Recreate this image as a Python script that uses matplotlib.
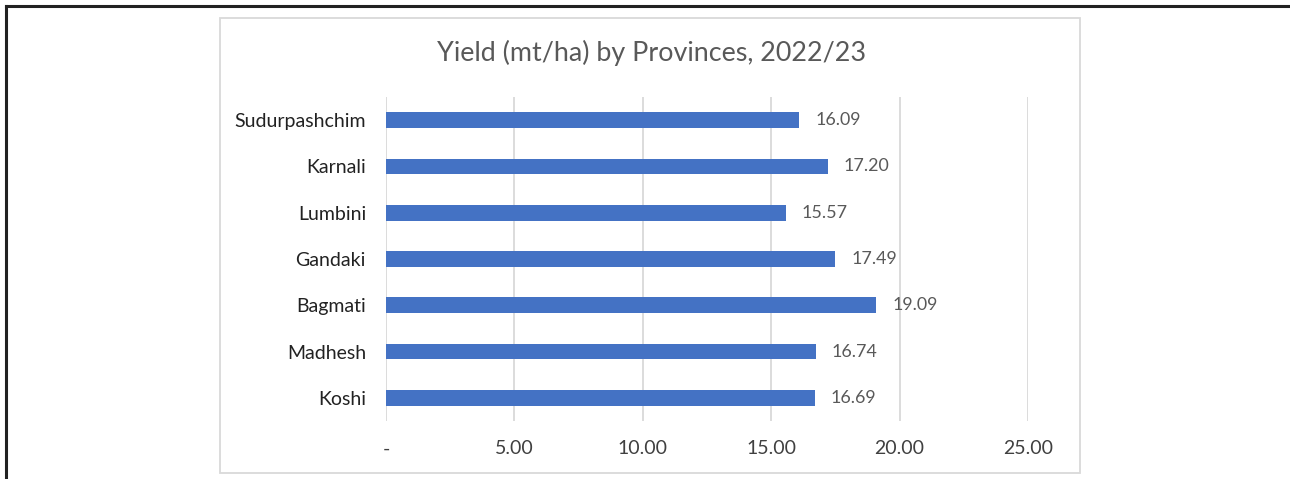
import matplotlib
matplotlib.use("Agg")
import matplotlib.pyplot as plt
from matplotlib.patches import Rectangle
from matplotlib.lines import Line2D

plt.rcParams['font.family'] = ['Lato', 'DejaVu Sans']

provinces = ['Koshi', 'Madhesh', 'Bagmati', 'Gandaki', 'Lumbini', 'Karnali', 'Sudurpashchim']
yields = [16.69, 16.74, 19.09, 17.49, 15.57, 17.20, 16.09]
xticks = [0, 5, 10, 15, 20, 25]
xtick_labels = ['-', '5.00', '10.00', '15.00', '20.00', '25.00']
title = 'Yield (mt/ha) by Provinces, 2022/23'

W, H = 1290, 479
fig = plt.figure(figsize=(W / 100, H / 100), dpi=100)

# outer page border (top and left only)
fig.add_artist(Line2D([6 / W, 1], [1 - 6 / H, 1 - 6 / H], color='#222222', lw=2.2))
fig.add_artist(Line2D([6 / W, 6 / W], [0, 1 - 6 / H], color='#222222', lw=2.2))

# chart area frame
fig.add_artist(Rectangle((220 / W, 1 - 473 / H), (1080 - 220) / W, (473 - 18) / H,
                         fill=False, edgecolor='#d9d9d9', lw=1.3))

ax = fig.add_axes([386 / W, 58 / H, (1028 - 386) / W, (421 - 97) / H])
bars = ax.barh(provinces, yields, height=0.34, color='#4472C4', zorder=3)
ax.set_xlim(0, 25)
ax.set_ylim(-0.5, len(provinces) - 0.5)
ax.set_xticks(xticks)
ax.set_xticklabels(xtick_labels)
ax.grid(axis='x', color='#d9d9d9', lw=1.3, zorder=0)
for s in ax.spines.values():
    s.set_visible(False)
ax.tick_params(axis='both', length=0, labelsize=14, colors='#222222')
ax.tick_params(axis='x', pad=14, colors='#404040')
ax.tick_params(axis='y', pad=14.4)

for rect, v in zip(bars, yields):
    ax.annotate(f'{v:.2f}', (v, rect.get_y() + rect.get_height() / 2),
                xytext=(16, 0), textcoords='offset pixels',
                va='center', ha='left', fontsize=12.9, color='#595959')

fig.text(652 / W, 1 - 53 / H, title, ha='center', va='center',
         fontsize=19.4, color='#595959')

fig.savefig('out.png', dpi=100, facecolor='white')
